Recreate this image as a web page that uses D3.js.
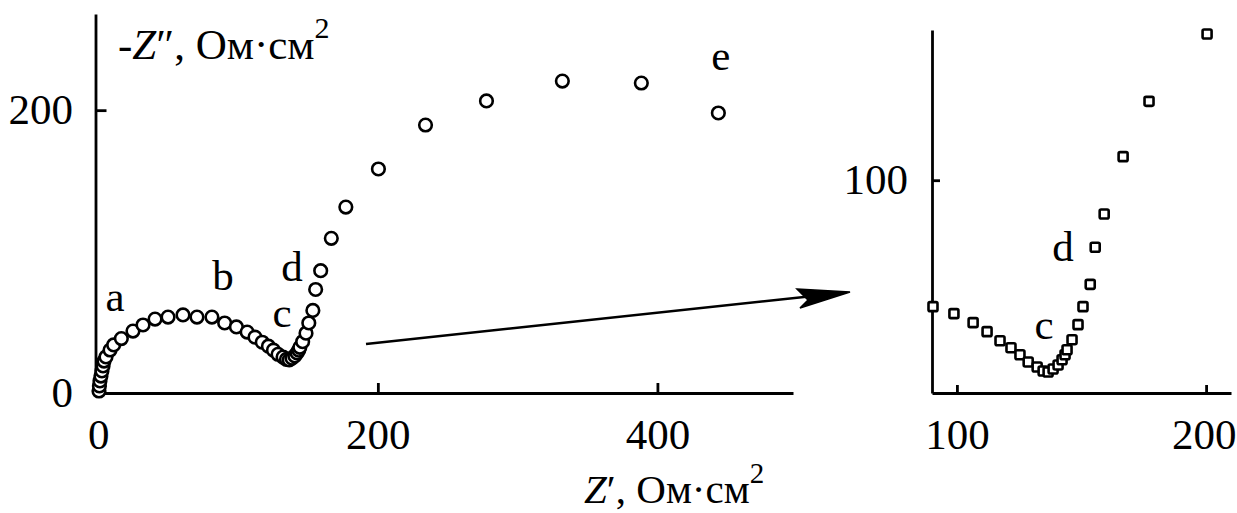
<!DOCTYPE html>
<html>
<head>
<meta charset="utf-8">
<script src="https://cdn.jsdelivr.net/npm/d3@7"></script>
<style>
  html, body { margin: 0; padding: 0; background: #fff; }
  svg { display: block; }
  text { font-family: "Liberation Serif", "Times New Roman", serif; fill: #000; }
</style>
</head>
<body>
<svg id="chart" width="1237" height="513"></svg>
<script>
// ---- Data: Nyquist impedance spectrum (Z', -Z'' in Ohm·cm²) ----
const zRe = [0.5, 0.8, 1.2, 1.9, 2.6, 3.4, 4.1, 5.5, 8.4, 11.0, 16.5, 24.8, 32.0, 40.6, 49.9, 60.6, 70.6, 81.3,
             90.4, 98.8, 106.5, 112.1, 117.3, 121.7, 125.3, 128.6, 132.2, 134.6, 136.6, 138.6, 140.6, 142.2,
             143.4, 144.2, 146.2, 148.6, 150.6, 153.5, 155.5, 159.1, 166.7, 177.1, 200.4, 234.1, 277.7, 332.0,
             388.5, 443.6];
const zIm = [1.4, 5.0, 8.5, 12.0, 15.6, 19.1, 22.6, 25.5, 30.4, 34.0, 38.5, 43.8, 48.1, 52.3, 53.7, 55.2, 53.7, 53.7,
             49.5, 46.7, 43.1, 39.5, 35.9, 33.1, 30.3, 27.4, 25.4, 23.8, 23.4, 24.6, 26.2, 28.3,
             30.3, 32.3, 36.3, 42.3, 49.5, 58.4, 73.2, 86.5, 109.4, 131.5, 158.4, 189.5, 206.5, 220.6,
             219.2, 198.0];

const leftXTicks = [0, 200, 400];
const leftYTicks = [0, 200];
const rightXTicks = [100, 200];
const rightYTicks = [100];

// curve region labels (text, Z', -Z'')
const leftLabelText = ["a", "b", "c", "d", "e"];
const leftLabelRe = [11.9, 89.2, 131.4, 138.6, 445.3];
const leftLabelIm = [58.0, 72.8, 46.7, 79.2, 228.4];
const rightLabelText = ["c", "d"];
const rightLabelRe = [135.0, 142.6];
const rightLabelIm = [36.7, 67.6];

const points = zRe.map((x, i) => ({ x, y: zIm[i] }));

// ---- Layout ----
const svg = d3.select("#chart");
const FONT = 43;
const AXW = 2.8;

const xL = d3.scaleLinear().domain([-2, 497]).range([95.5, 793]);
const yL = d3.scaleLinear().domain([0, 268]).range([393, 14]);
const xR = d3.scaleLinear().domain([90, 210]).range([932, 1231]);
const yR = d3.scaleLinear().domain([15, 160]).range([393, 30]);

function styleAxis(g) {
  g.selectAll("path.domain").attr("stroke", "#000").attr("stroke-width", AXW);
  g.selectAll(".tick line").attr("stroke", "#000").attr("stroke-width", AXW);
  g.selectAll(".tick text").attr("font-size", FONT).attr("fill", "#000")
    .style("font-family", '"Liberation Serif", "Times New Roman", serif');
}

// Left plot axes
svg.append("g").attr("transform", `translate(0,${yL(0)})`)
  .call(d3.axisBottom(xL).tickValues(leftXTicks).tickFormat(d3.format("d"))
        .tickSizeInner(-10).tickSizeOuter(0).tickPadding(25.5))
  .call(styleAxis);
svg.append("g").attr("transform", `translate(${xL(-2)},0)`)
  .call(d3.axisLeft(yL).tickValues(leftYTicks).tickFormat(d3.format("d"))
        .tickSizeInner(-11).tickSizeOuter(0).tickPadding(22.5))
  .call(styleAxis);

// Right plot axes
const rxAxis = svg.append("g").attr("transform", `translate(0,${yR(15)})`)
  .call(d3.axisBottom(xR).tickValues(rightXTicks).tickFormat(d3.format("d"))
        .tickSizeInner(-8).tickSizeOuter(0).tickPadding(25.5))
  .call(styleAxis);
// keep the last label inside the picture edge
rxAxis.selectAll(".tick text").filter(d => d === 200).attr("text-anchor", "end").attr("dx", 30);
svg.append("g").attr("transform", `translate(${xR(90)},0)`)
  .call(d3.axisLeft(yR).tickValues(rightYTicks).tickFormat(d3.format("d"))
        .tickSizeInner(-8).tickSizeOuter(0).tickPadding(24))
  .call(styleAxis);

// Left plot markers (circles)
svg.append("g").selectAll("circle").data(points).join("circle")
  .attr("cx", d => xL(d.x)).attr("cy", d => yL(d.y)).attr("r", 6.3)
  .attr("fill", "#fff").attr("stroke", "#000").attr("stroke-width", 2.6);

// Right plot markers (small squares), within the zoomed range
const S = 9;
svg.append("g").selectAll("rect")
  .data(points.filter(d => d.x >= 89 && d.x <= 210 && d.y >= 15 && d.y <= 160))
  .join("rect")
  .attr("x", d => xR(d.x) - S / 2).attr("y", d => yR(d.y) - S / 2)
  .attr("width", S).attr("height", S).attr("rx", 1.5)
  .attr("fill", "#fff").attr("stroke", "#000").attr("stroke-width", 2.6);

// Curve labels
svg.append("g").selectAll("text").data(leftLabelText).join("text")
  .attr("x", (d, i) => xL(leftLabelRe[i])).attr("y", (d, i) => yL(leftLabelIm[i]))
  .attr("text-anchor", "middle").attr("font-size", FONT).text(d => d);
svg.append("g").selectAll("text").data(rightLabelText).join("text")
  .attr("x", (d, i) => xR(rightLabelRe[i])).attr("y", (d, i) => yR(rightLabelIm[i]))
  .attr("text-anchor", "middle").attr("font-size", FONT).text(d => d);

// Axis titles
const yTitle = svg.append("text").attr("x", 118).attr("y", 59).attr("font-size", FONT);
yTitle.append("tspan").text("-");
yTitle.append("tspan").attr("font-style", "italic").text("Z");
yTitle.append("tspan").text("″, Ом·см");
yTitle.append("tspan").attr("font-size", 30).attr("dy", -21).text("2");

const xTitle = svg.append("text").attr("x", 584).attr("y", 503).attr("font-size", 41);
xTitle.append("tspan").attr("font-style", "italic").text("Z");
xTitle.append("tspan").text("′, Ом·см");
xTitle.append("tspan").attr("font-size", 29).attr("dy", -20).text("2");

// Arrow from main plot to inset
const arrowStart = [366, 344], arrowTip = [850, 292];
svg.append("line")
  .attr("x1", arrowStart[0]).attr("y1", arrowStart[1])
  .attr("x2", arrowTip[0] - 4).attr("y2", arrowTip[1] + 0.5)
  .attr("stroke", "#000").attr("stroke-width", 2.6);
svg.append("path")
  .attr("d", `M797,289 L${arrowTip[0]},${arrowTip[1]} L800,308 L808,300 L797,289 Z`)
  .attr("fill", "#000").attr("stroke", "#000").attr("stroke-width", 1.5)
  .attr("stroke-linejoin", "miter");
</script>
</body>
</html>
